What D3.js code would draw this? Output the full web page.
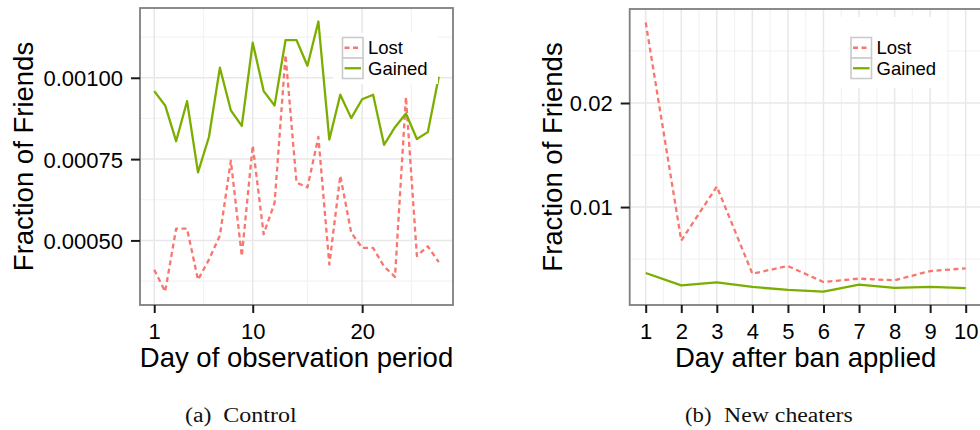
<!DOCTYPE html>
<html><head><meta charset="utf-8">
<script src="https://cdn.jsdelivr.net/npm/d3@7"></script>
<style>body{margin:0;background:#fff}svg{display:block}</style>
</head><body><svg id="c" width="980" height="430"></svg>
<script>
// ---------- data ----------
const seriesNames = ["Lost", "Gained"];
const seriesColors = ["#F8766D", "#7CAE00"];

const controlDays = [1,2,3,4,5,6,7,8,9,10,11,12,13,14,15,16,17,18,19,20,21,22,23,24,25,26,27];
const controlLost = [0.000410,0.000343,0.000536,0.000536,0.000379,0.000441,0.000515,0.000745,0.000452,0.000792,
                     0.000519,0.000616,0.001070,0.000678,0.000663,0.000818,0.000426,0.000699,0.000524,0.000477,
                     0.000477,0.000420,0.000388,0.000941,0.000452,0.000482,0.000433];
const controlGained = [0.000959,0.000915,0.000805,0.000928,0.000709,0.000818,0.001031,0.000900,0.000852,0.001108,
                       0.000959,0.000915,0.001116,0.001116,0.001037,0.001173,0.000810,0.000948,0.000876,0.000934,
                       0.000948,0.000794,0.000848,0.000890,0.000812,0.000833,0.001003];
const controlXTicks = [1, 10, 20];
const controlYTicks = [0.0005, 0.00075, 0.001];
const controlYTickLabels = ["0.00050", "0.00075", "0.00100"];

const cheaterDays = [1,2,3,4,5,6,7,8,9,10];
const cheaterLost = [0.02774,0.00678,0.01197,0.00360,0.00433,0.00280,0.00312,0.00296,0.00385,0.00411];
const cheaterGained = [0.00366,0.00248,0.00277,0.00232,0.00204,0.00188,0.00255,0.00223,0.00232,0.00220];
const cheaterXTicks = [1,2,3,4,5,6,7,8,9,10];
const cheaterYTicks = [0.01, 0.02];
const cheaterYTickLabels = ["0.01", "0.02"];

const xTitles = ["Day of observation period", "Day after ban applied"];
const yTitle = "Fraction of Friends";
const captions = [["(a)", "Control"], ["(b)", "New cheaters"]];

// ---------- layout ----------
const panels = [
  { days: controlDays, series: [controlLost, controlGained], xTicks: controlXTicks,
    yTicks: controlYTicks, yLabels: controlYTickLabels, xTitle: xTitles[0],
    left: 140, right: 453, top: 8, bottom: 305, yTitleX: 33,
    legend: { x: 333, y: 33, w: 105, h: 51, kx: 342.5, ky: 37.5 },
    caption: { y: 421.5, parts: [{ x: 185, len: 26.5 }, { x: 223.3, len: 73.4 }], text: captions[0] } },
  { days: cheaterDays, series: [cheaterLost, cheaterGained], xTicks: cheaterXTicks,
    yTicks: cheaterYTicks, yLabels: cheaterYTickLabels, xTitle: xTitles[1],
    left: 629.7, right: 981.7, top: 9, bottom: 305, yTitleX: 561.5,
    legend: { x: 840, y: 17, w: 106, h: 71, kx: 851, ky: 37.5 },
    caption: { y: 421.5, parts: [{ x: 685, len: 26.5 }, { x: 724, len: 128.7 }], text: captions[1] } }
];

const svg = d3.select("#c");
const sans = "'Liberation Sans', Arial, Helvetica, sans-serif";

function expand(ext, m) { const r = ext[1] - ext[0]; return [ext[0] - m * r, ext[1] + m * r]; }
function minorBreaks(b, lim) {
  const bd = b[1] - b[0];
  const bb = b.slice();
  if (lim[0] < bb[0]) bb.unshift(bb[0] - bd);
  if (lim[1] > bb[bb.length - 1]) bb.push(bb[bb.length - 1] + bd);
  const out = [];
  for (let i = 0; i < bb.length - 1; i++) out.push((bb[i] + bb[i + 1]) / 2);
  return out.filter(v => v >= lim[0] && v <= lim[1]);
}

panels.forEach(p => {
  const xDom = expand(d3.extent(p.days), 0.05);
  const allVals = p.series.flat();
  const yDom = expand(d3.extent(allVals), 0.05);
  const x = d3.scaleLinear().domain(xDom).range([p.left, p.right]);
  const y = d3.scaleLinear().domain(yDom).range([p.bottom, p.top]);
  const g = svg.append("g");
  const W = p.right - p.left, H = p.bottom - p.top;

  g.append("rect").attr("x", p.left).attr("y", p.top).attr("width", W).attr("height", H).attr("fill", "#fff");

  // minor grid
  const xMinor = minorBreaks(p.xTicks, xDom), yMinor = minorBreaks(p.yTicks, yDom);
  g.selectAll(null).data(xMinor).join("line")
    .attr("x1", d => x(d)).attr("x2", d => x(d)).attr("y1", p.top).attr("y2", p.bottom)
    .attr("stroke", "#F3F3F3").attr("stroke-width", 1.2);
  g.selectAll(null).data(yMinor).join("line")
    .attr("x1", p.left).attr("x2", p.right).attr("y1", d => y(d)).attr("y2", d => y(d))
    .attr("stroke", "#F3F3F3").attr("stroke-width", 1.2);
  // major grid
  g.selectAll(null).data(p.xTicks).join("line")
    .attr("x1", d => x(d)).attr("x2", d => x(d)).attr("y1", p.top).attr("y2", p.bottom)
    .attr("stroke", "#E8E8E8").attr("stroke-width", 1.5);
  g.selectAll(null).data(p.yTicks).join("line")
    .attr("x1", p.left).attr("x2", p.right).attr("y1", d => y(d)).attr("y2", d => y(d))
    .attr("stroke", "#E8E8E8").attr("stroke-width", 1.5);

  // lines
  const line = d3.line().x((d, i) => x(p.days[i])).y(d => y(d));
  p.series.forEach((s, k) => {
    g.append("path").datum(s).attr("d", line).attr("fill", "none")
      .attr("stroke", seriesColors[k]).attr("stroke-width", 2.3)
      .attr("stroke-linejoin", "round")
      .attr("stroke-dasharray", k === 0 ? "5,3.5" : null);
  });

  // legend
  const L = p.legend;
  g.append("rect").attr("x", L.x).attr("y", L.y).attr("width", L.w).attr("height", L.h).attr("fill", "#fff");
  const keySize = 20.5;
  seriesNames.forEach((name, k) => {
    const ky = L.ky + k * keySize;
    g.append("rect").attr("x", L.kx).attr("y", ky).attr("width", keySize).attr("height", keySize)
      .attr("fill", "#fff").attr("stroke", "#CBCBCB").attr("stroke-width", 1.6);
    g.append("line").attr("x1", L.kx + 2).attr("x2", L.kx + keySize - 2)
      .attr("y1", ky + keySize / 2).attr("y2", ky + keySize / 2)
      .attr("stroke", seriesColors[k]).attr("stroke-width", 2.3)
      .attr("stroke-dasharray", k === 0 ? "5,3.5" : null);
    g.append("text").attr("x", L.kx + keySize + 5).attr("y", ky + keySize / 2 + 6.6)
      .attr("font-family", sans).attr("font-size", 18.5).attr("fill", "#000").text(name);
  });

  // border
  g.append("rect").attr("x", p.left).attr("y", p.top).attr("width", W).attr("height", H)
    .attr("fill", "none").attr("stroke", "#7F7F7F").attr("stroke-width", 1.8);

  // axes
  const xAxis = d3.axisBottom(x).tickValues(p.xTicks).tickSize(8).tickPadding(10).tickFormat(d3.format("d"));
  const ax = g.append("g").attr("transform", `translate(0,${p.bottom})`).call(xAxis);
  const yAxis = d3.axisLeft(y).tickValues(p.yTicks).tickSize(9).tickPadding(8)
    .tickFormat((d, i) => p.yLabels[i]);
  const ay = g.append("g").attr("transform", `translate(${p.left},0)`).call(yAxis);
  [ax, ay].forEach(a => {
    a.select(".domain").remove();
    a.selectAll(".tick line").attr("stroke", "#1a1a1a").attr("stroke-width", 2);
    a.selectAll(".tick text").attr("font-family", sans).attr("font-size", 22).attr("fill", "#000");
  });
  ax.selectAll(".tick text").attr("dy", null).attr("y", 34);
  ay.selectAll(".tick text").attr("dy", "0.36em");

  // titles
  g.append("text").attr("x", (p.left + p.right) / 2).attr("y", 367)
    .attr("text-anchor", "middle").attr("font-family", sans).attr("font-size", 27.5).attr("fill", "#000")
    .text(p.xTitle);
  g.append("text").attr("transform", `translate(${p.yTitleX},${(p.top + p.bottom) / 2}) rotate(-90)`)
    .attr("text-anchor", "middle").attr("font-family", sans).attr("font-size", 27.5).attr("fill", "#000")
    .text(yTitle);

  // caption
  p.caption.parts.forEach((c, i) => {
    g.append("text").attr("x", c.x).attr("y", p.caption.y)
      .attr("font-family", "'Liberation Serif', 'DejaVu Serif', serif").attr("font-size", 20.5)
      .attr("fill", "#111").attr("textLength", c.len).attr("lengthAdjust", "spacingAndGlyphs")
      .text(p.caption.text[i]);
  });
});
</script></body></html>
